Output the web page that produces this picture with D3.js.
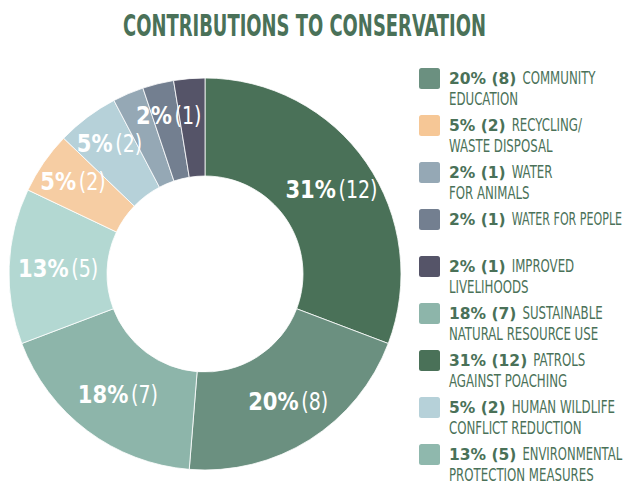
<html>
<script src="https://cdnjs.cloudflare.com/ajax/libs/d3/7.8.5/d3.min.js"></script>
<body style="margin:0;background:#fff">
</body>
</html>

<script type="text/javascript">

// categories, in legend order
var names = [["COMMUNITY", "EDUCATION"], ["RECYCLING/", "WASTE DISPOSAL"], ["WATER", "FOR ANIMALS"],
  ["WATER FOR PEOPLE"], ["IMPROVED", "LIVELIHOODS"], ["SUSTAINABLE", "NATURAL RESOURCE USE"],
  ["PATROLS", "AGAINST POACHING"], ["HUMAN WILDLIFE", "CONFLICT REDUCTION"], ["ENVIRONMENTAL", "PROTECTION MEASURES"]];
var counts = [8, 2, 1, 1, 1, 7, 12, 2, 5];
var percents = ["20%", "5%", "2%", "2%", "2%", "18%", "31%", "5%", "13%"];
// order of the slices, clockwise from the top
var sliceOrder = [6, 0, 5, 8, 1, 7, 2, 3, 4];
// which categories get a label on the ring
var onRing = [true, true, false, true, false, true, true, true, true];

var sliceColors = ["#6b9080", "#f6cda3", "#95a8b5", "#737f90", "#555468", "#8db5aa", "#4a7158", "#b6d1d9", "#b3d8d2"];
var legendColors = ["#6b9080", "#f6c796", "#95a8b5", "#737f90", "#555468", "#8db5aa", "#4a7158", "#b6d1d9", "#8fb8ad"];

var green = "#4a7158";
var narrow = "'Liberation Sans Narrow', 'DejaVu Sans Condensed', sans-serif";

var svg = d3.select("body")
  .append("svg")
  .attr("width", 626)
  .attr("height", 484);

// title, squeezed to the width it has in the picture
var title = svg.append("text")
  .style("font-family", narrow)
  .style("font-stretch", "condensed")
  .style("font-weight", "bold")
  .style("font-size", "30px")
  .style("fill", green)
  .text("CONTRIBUTIONS TO CONSERVATION");
var tw = title.node().getComputedTextLength();
title.attr("transform", "translate(123,36) scale(" + (363 / tw) + ",1)");

// donut
var pie = d3.pie().sort(null).value(function(i) { return counts[i]; });
var arc = d3.arc().innerRadius(98).outerRadius(196);
var labelArc = function(d) {
  var r = counts[d.data] >= 5 ? 150 : 164;
  return d3.arc().innerRadius(r).outerRadius(r).centroid(d);
};

var donut = svg.append("g").attr("transform", "translate(205,274)");

var slices = pie(sliceOrder);

donut.selectAll(".slice").data(slices)
  .enter().append("path")
  .attr("class", "slice")
  .attr("d", arc)
  .style("fill", function(d) { return sliceColors[d.data]; })
  .style("stroke", "#fff")
  .style("stroke-width", 0.8);

var labels = donut.selectAll(".lab").data(slices.filter(function(d) { return onRing[d.data]; }))
  .enter().append("g")
  .attr("class", "lab")
  .attr("transform", function(d) { var c = labelArc(d); return "translate(" + (c[0] + 3) + "," + (c[1] + 9) + ")"; })
  .append("text")
  .attr("text-anchor", "middle")
  .attr("transform", "scale(0.88,1)")
  .style("fill", "#fff");

labels.append("tspan")
  .style("font-family", "'DejaVu Sans', sans-serif")
  .style("font-weight", "bold")
  .style("font-size", "24px")
  .text(function(d) { return percents[d.data]; });

labels.append("tspan")
  .attr("dx", 3)
  .style("font-family", narrow)
  .style("font-stretch", "condensed")
  .style("font-size", "24px")
  .text(function(d) { return "(" + counts[d.data] + ")"; });

// legend
var rowY = d3.scaleLinear().domain([0, 1]).range([68, 115]);

var items = svg.selectAll(".item").data(d3.range(names.length))
  .enter().append("g")
  .attr("class", "item")
  .attr("transform", function(i) { return "translate(419," + rowY(i) + ")"; });

items.append("rect")
  .attr("width", 21)
  .attr("height", 21)
  .attr("rx", 2.5)
  .style("fill", function(i) { return legendColors[i]; });

items.each(function(i) {
  var g = d3.select(this);
  var bold = g.append("text")
    .attr("x", 30)
    .attr("y", 16)
    .style("font-family", "'DejaVu Sans', sans-serif")
    .style("font-weight", "bold")
    .style("font-size", "15.5px")
    .style("fill", green)
    .text(percents[i] + " (" + counts[i] + ")");
  var w = bold.node().getComputedTextLength();

  names[i].forEach(function(line, k) {
    var x = k == 0 ? 30 + w + 6 : 30;
    var t = g.append("text")
      .style("font-family", narrow)
      .style("font-stretch", "condensed")
      .style("font-size", "16.8px")
      .style("fill", green)
      .text(line);
    // squeeze so the line stays inside the page
    var s = Math.min(0.78, (203 - x) / t.node().getComputedTextLength());
    t.attr("transform", "translate(" + x + "," + (16 + k * 21) + ") scale(" + s + ",1)");
  });
});
</script>
